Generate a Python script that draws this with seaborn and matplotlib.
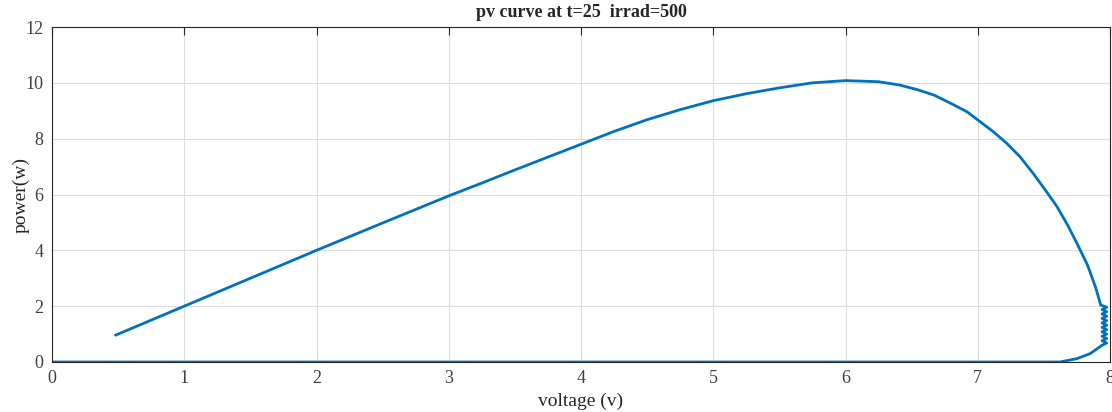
import matplotlib
matplotlib.use("Agg")
import matplotlib.pyplot as plt
import seaborn as sns
import pandas as pd

# data (voltage, power) in drawing order
voltage = [0.48, 1.0, 1.5, 2.0, 2.5, 3.0, 3.25, 3.5, 3.75, 4.0, 4.25, 4.5, 4.75,
           5.0, 5.25, 5.5, 5.75, 6.0, 6.25, 6.41, 6.54, 6.67, 6.79, 6.92,
           7.02, 7.12, 7.22, 7.32, 7.42, 7.52, 7.60, 7.68, 7.75, 7.83, 7.89, 7.93,
           7.975, 7.94, 7.975, 7.94, 7.975, 7.94, 7.975, 7.94, 7.975, 7.94,
           7.975, 7.94, 7.975, 7.94, 7.975, 7.94, 7.975, 7.94,
           7.85, 7.75, 7.62, 7.0, 0.0]
power = [0.96, 2.0, 3.0, 4.0, 4.98, 5.95, 6.41, 6.88, 7.34, 7.8, 8.26, 8.68, 9.04,
         9.36, 9.61, 9.82, 10.0, 10.08, 10.04, 9.92, 9.76, 9.56, 9.28, 8.96,
         8.6, 8.24, 7.83, 7.35, 6.75, 6.1, 5.56, 4.9, 4.25, 3.47, 2.69, 2.04,
         1.96, 1.88, 1.8, 1.72, 1.64, 1.56, 1.48, 1.4, 1.32, 1.24,
         1.16, 1.08, 1.0, 0.92, 0.84, 0.76, 0.68, 0.6,
         0.3, 0.12, 0.0, 0.0, 0.0]

x_ticks = [0, 1, 2, 3, 4, 5, 6, 7, 8]
y_ticks = [0, 2, 4, 6, 8, 10, 12]
title = "pv curve at t=25  irrad=500"
xlabel = "voltage (v)"
ylabel = "power(w)"

sns.set_style("white")
plt.rcParams["font.family"] = ["Liberation Serif", "DejaVu Serif"]

df = pd.DataFrame({"voltage": voltage, "power": power})

fig = plt.figure(figsize=(11.12, 4.12), dpi=100)
ax = fig.add_axes([52 / 1112, 1 - 362 / 412, (1110 - 52) / 1112, (362 - 27) / 412])

sns.lineplot(data=df, x="voltage", y="power", sort=False, estimator=None,
             color="#0072BD", linewidth=2.0, ax=ax)

ax.set_xlim(0, 8)
ax.set_ylim(0, 12)
ax.set_xticks(x_ticks)
ax.set_yticks(y_ticks)
ax.grid(True, color="#dcdcdc", linewidth=0.8)
ax.set_axisbelow(True)
ax.tick_params(direction="in", length=6, width=0.8, color="#262626",
               labelcolor="#404040", labelsize=13, top=True, right=False, pad=6)
for side in ["left", "bottom", "top", "right"]:
    ax.spines[side].set_visible(True)
    ax.spines[side].set_color("#262626")
    ax.spines[side].set_linewidth(0.8)

ax.set_title(title, fontsize=13, fontweight="bold", pad=7)
ax.set_xlabel(xlabel, fontsize=14, color="#262626", labelpad=3.5)
ax.set_ylabel(ylabel, fontsize=14, color="#262626", labelpad=-3)

fig.savefig("out.png", dpi=100)
